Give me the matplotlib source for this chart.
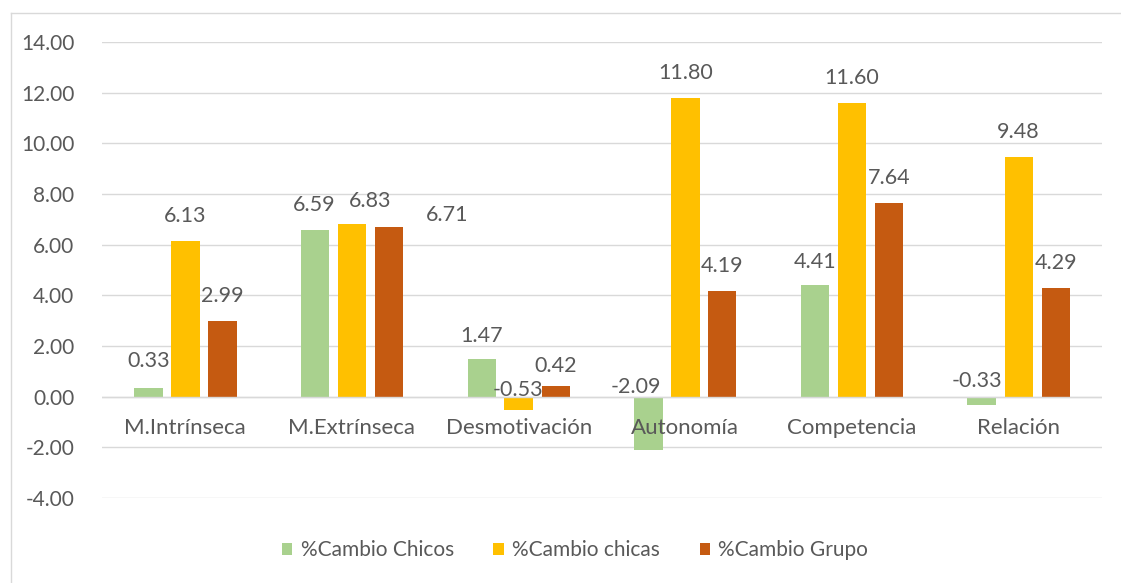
import numpy as np
import matplotlib
matplotlib.use("Agg")
import matplotlib.pyplot as plt
import matplotlib.transforms as mtransforms
from matplotlib.lines import Line2D

## Data: percent change per dimension
categories = ["M.Intrínseca", "M.Extrínseca", "Desmotivación",
              "Autonomía", "Competencia", "Relación"]
series_names = ["%Cambio Chicos", "%Cambio chicas", "%Cambio Grupo"]
chicos = [0.33, 6.59, 1.47, -2.09, 4.41, -0.33]
chicas = [6.13, 6.83, -0.53, 11.80, 11.60, 9.48]
grupo = [2.99, 6.71, 0.42, 4.19, 7.64, 4.29]
yticks = [-4, -2, 0, 2, 4, 6, 8, 10, 12, 14]

colors = ["#A9D18E", "#FFC000", "#C55A11"]
text_color = "#595959"
grid_color = "#D9D9D9"

# label offsets in pixels (dx, dy) where the default does not fit
label_shift = {
    (0, 0): (0, 27), (0, 1): (-1, 25), (0, 2): (0, 23), (0, 3): (-12, 10),
    (0, 4): (0, 23), (0, 5): (-5, 16),
    (1, 1): (18, 23), (1, 2): (-1, 7),
    (2, 1): (58, 12), (2, 2): (0, 20),
}

plt.rcParams['font.family'] = ['Lato', 'DejaVu Sans']

W, H = 1121, 583
fig = plt.figure(figsize=(W / 100, H / 100), dpi=100)
ax = fig.add_axes([102 / W, (H - 498) / H, 1000 / W, 456 / H])

x = np.arange(len(categories))
width = 0.17
step = 0.222
data = [chicos, chicas, grupo]

for s, vals in enumerate(data):
    pos = x + (s - 1) * step
    ax.bar(pos, vals, width=width, color=colors[s], label=series_names[s],
           zorder=2)
    for i, v in enumerate(vals):
        dx, dy = label_shift.get((s, i), (0, 25))
        ax.annotate("%.2f" % v, xy=(pos[i], max(v, 0)),
                    xytext=(dx, dy), textcoords="offset pixels",
                    ha="center", va="center", fontsize=15.5,
                    color=text_color, zorder=4)

ax.set_xlim(-0.5, len(categories) - 0.5)
ax.set_ylim(-4, 14)
ax.set_yticks(yticks)
ax.set_yticklabels(["%.2f" % t for t in yticks], fontsize=15,
                   color=text_color)
ax.tick_params(axis="y", length=0, pad=20)
ax.set_xticks([])
ax.grid(axis="y", color=grid_color, linewidth=1, zorder=0)
ax.axhline(0, color=grid_color, linewidth=1, zorder=3)
for sp in ax.spines.values():
    sp.set_visible(False)

# category names sit just under the zero line
trans = mtransforms.offset_copy(ax.transData, fig=fig, y=-31, units="dots")
for i, c in enumerate(categories):
    ax.text(x[i], 0, c, transform=trans, ha="center", va="center",
            fontsize=16, color=text_color, zorder=5)

fig.legend(loc="center", bbox_to_anchor=(575 / W, (H - 550) / H), ncol=3,
           frameon=False, fontsize=15, labelcolor=text_color,
           handlelength=0.5, handleheight=0.5, handletextpad=0.4,
           columnspacing=1.9)

# chart area frame
fig.add_artist(Line2D([11 / W, 11 / W], [0, (H - 13) / H],
                      transform=fig.transFigure, color=grid_color, lw=1))
fig.add_artist(Line2D([11 / W, 1], [(H - 13) / H, (H - 13) / H],
                      transform=fig.transFigure, color=grid_color, lw=1))

fig.savefig("out.png", dpi=100)
